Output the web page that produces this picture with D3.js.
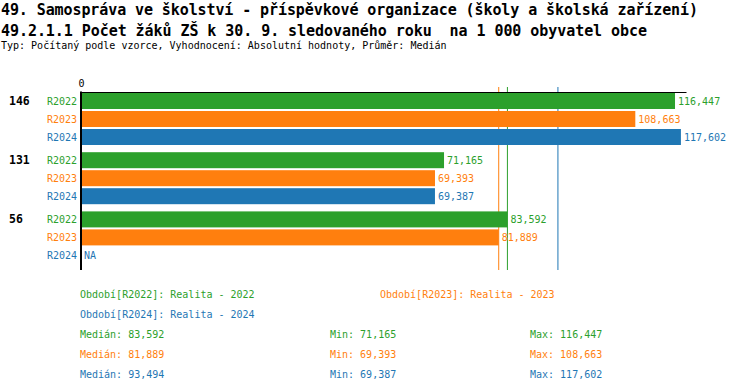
<!DOCTYPE html>
<html><head><meta charset="utf-8">
<script src="https://cdn.jsdelivr.net/npm/d3@7"></script>
<style>
body{margin:0;background:#fff;}
svg{display:block;}
text{font-family:"DejaVu Sans Mono",monospace;}
</style></head>
<body><svg id="c" width="750" height="392"></svg>
<script>
const titleLines = [
  "49. Samospráva ve školství - příspěvkové organizace (školy a školská zařízení)",
  "49.2.1.1 Počet žáků ZŠ k 30. 9. sledovaného roku  na 1 000 obyvatel obce"
];
const subtitle = "Typ: Počítaný podle vzorce, Vyhodnocení: Absolutní hodnoty, Průměr: Medián";
const categories = ["146", "131", "56"];
const seriesNames = ["R2022", "R2023", "R2024"];
const seriesColors = ["#2ca02c", "#ff7f0e", "#1f77b4"];
const values2022 = [116.447, 71.165, 83.592];
const values2023 = [108.663, 69.393, 81.889];
const values2024 = [117.602, 69.387, null];
const legendLabels = ["Období[R2022]: Realita - 2022", "Období[R2023]: Realita - 2023", "Období[R2024]: Realita - 2024"];
const medians = [83.592, 81.889, 93.494];
const mins = [71.165, 69.393, 69.387];
const maxs = [116.447, 108.663, 117.602];
const xTicks = [0];

const seriesValues = [values2022, values2023, values2024];
const fmt = v => v.toFixed(3).replace(".", ",");

const svg = d3.select("#c");

svg.append("text").attr("x", 1).attr("y", 15).attr("font-size", 15).attr("font-weight", "bold")
  .attr("textLength", 697).attr("lengthAdjust", "spacing").text(titleLines[0]);
svg.append("text").attr("x", 1).attr("y", 36).attr("font-size", 15).attr("font-weight", "bold")
  .attr("textLength", 646).attr("lengthAdjust", "spacing").style("white-space", "pre").text(titleLines[1]);
svg.append("text").attr("x", 1).attr("y", 48.5).attr("font-size", 10)
  .text(subtitle);

const x = d3.scaleLinear().domain([0, 118.6]).range([81, 686]);
const y0 = d3.scaleBand().domain(categories).range([93, 93 + 3 * 59.2]).padding(0);
const y1 = d3.scaleBand().domain(seriesNames).range([0, 52]).paddingInner(2 / 18).paddingOuter(0);

// median lines
svg.append("g").selectAll("line").data(medians).join("line")
  .attr("x1", d => x(d)).attr("x2", d => x(d))
  .attr("y1", 87).attr("y2", 270)
  .attr("stroke", (d, i) => seriesColors[i]).attr("stroke-width", 1);

// bars
const groups = svg.append("g").selectAll("g").data(categories).join("g")
  .attr("transform", d => `translate(0,${y0(d)})`);

groups.append("text").attr("x", 9).attr("y", 12).attr("font-size", 11.5).attr("font-weight", "bold")
  .attr("fill", "#000").text(d => d);

seriesNames.forEach((s, si) => {
  groups.append("rect")
    .attr("x", x(0))
    .attr("y", y1(s))
    .attr("height", y1.bandwidth())
    .attr("width", (d, ci) => seriesValues[si][ci] == null ? 0 : x(seriesValues[si][ci]) - x(0))
    .attr("fill", seriesColors[si]);
  groups.append("text")
    .attr("x", 77).attr("y", y1(s) + y1.bandwidth() / 2 + 3.5)
    .attr("text-anchor", "end").attr("font-size", 10).attr("fill", seriesColors[si])
    .text(s);
  groups.append("text")
    .attr("x", (d, ci) => seriesValues[si][ci] == null ? x(0) + 3 : x(seriesValues[si][ci]) + 3)
    .attr("y", y1(s) + y1.bandwidth() / 2 + 3.5)
    .attr("font-size", 10).attr("fill", seriesColors[si])
    .text((d, ci) => seriesValues[si][ci] == null ? "NA" : fmt(seriesValues[si][ci]));
});

// top axis
const axis = d3.axisTop(x).tickValues(xTicks).tickSize(0).tickPadding(5);
const gAxis = svg.append("g").attr("transform", "translate(0,92)").call(axis);
gAxis.select(".domain").attr("stroke", "#000").attr("stroke-width", 1.2);
gAxis.selectAll("text").attr("font-family", "DejaVu Sans Mono").attr("font-size", 10).attr("fill", "#000");

// left axis line
svg.append("line").attr("x1", 81).attr("x2", 81).attr("y1", 91.5).attr("y2", 270)
  .attr("stroke", "#000").attr("stroke-width", 2);

// legend
const legPos = [[80, 297.5], [380, 297.5], [80, 317.5]];
svg.append("g").selectAll("text").data(legendLabels).join("text")
  .attr("x", (d, i) => legPos[i][0]).attr("y", (d, i) => legPos[i][1])
  .attr("font-size", 10).attr("fill", (d, i) => seriesColors[i]).text(d => d);

const stats = svg.append("g");
seriesNames.forEach((s, i) => {
  const yy = 337.5 + i * 20;
  stats.append("text").attr("x", 80).attr("y", yy).attr("font-size", 10).attr("fill", seriesColors[i]).text("Medián: " + fmt(medians[i]));
  stats.append("text").attr("x", 330).attr("y", yy).attr("font-size", 10).attr("fill", seriesColors[i]).text("Min: " + fmt(mins[i]));
  stats.append("text").attr("x", 530).attr("y", yy).attr("font-size", 10).attr("fill", seriesColors[i]).text("Max: " + fmt(maxs[i]));
});
</script></body></html>
